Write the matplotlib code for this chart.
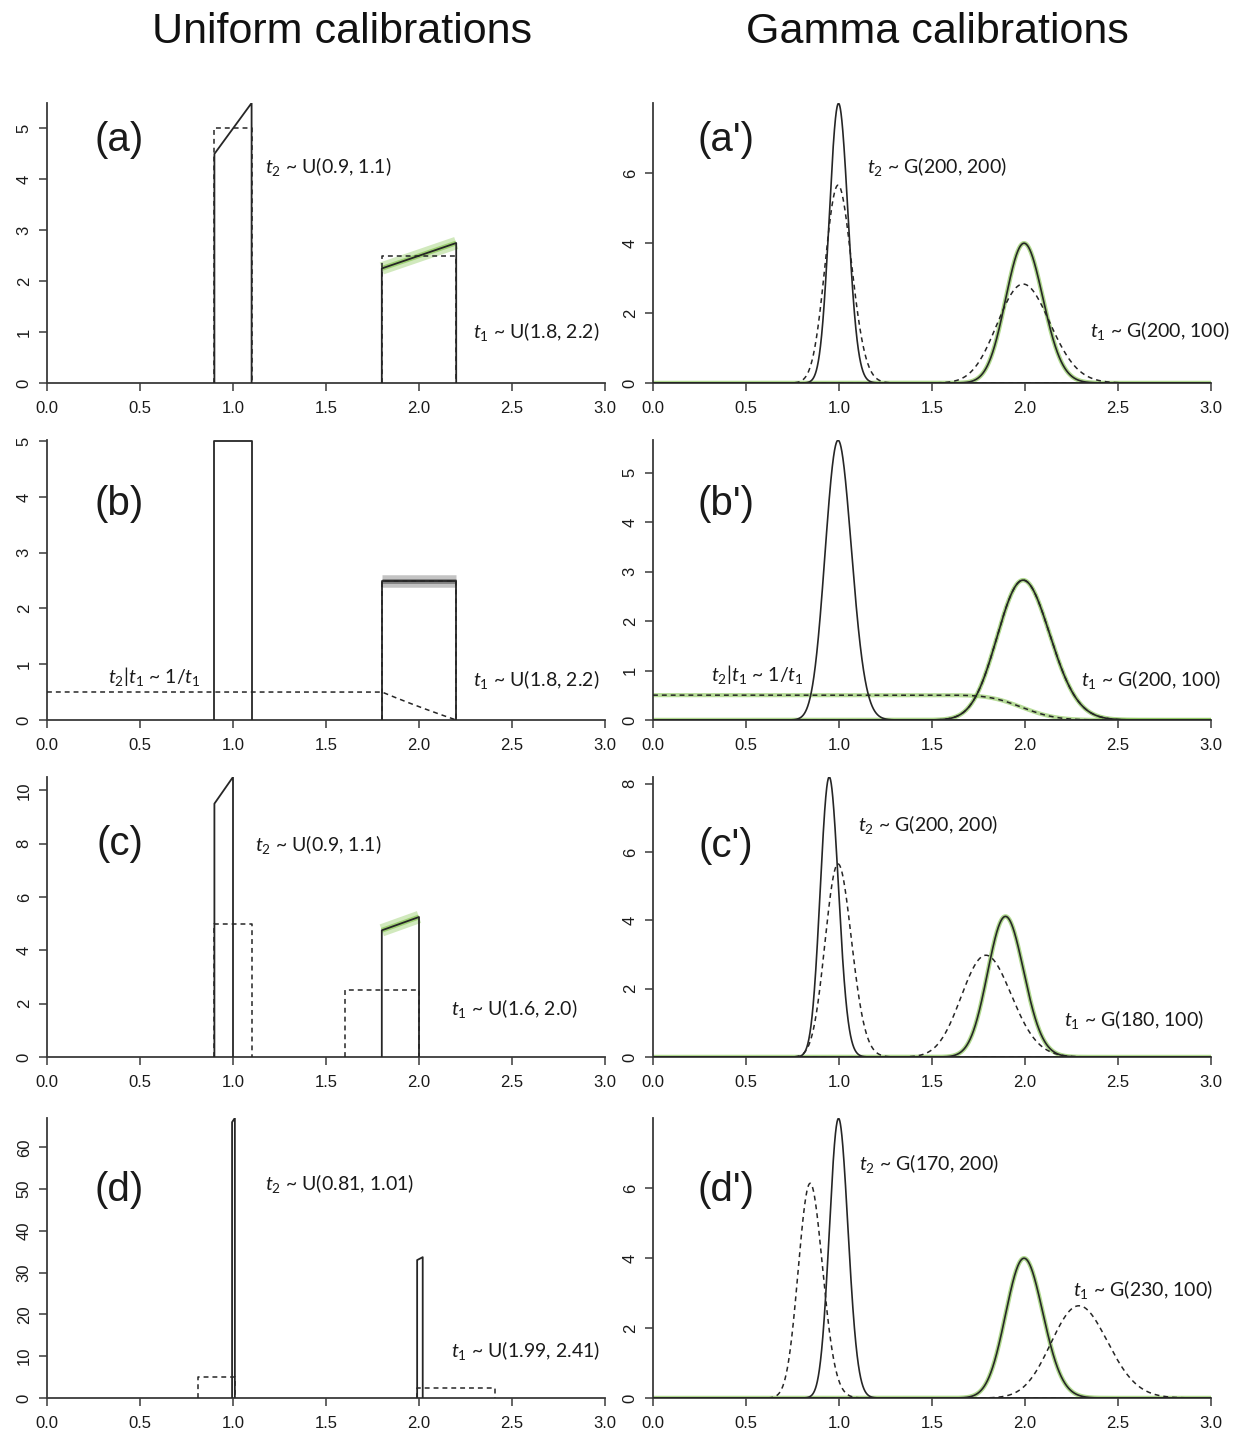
import math
import numpy as np
import matplotlib
matplotlib.use("Agg")
import matplotlib.pyplot as plt

plt.rcParams["font.family"] = ["Liberation Sans", "DejaVu Sans"]
plt.rcParams["mathtext.fontset"] = "custom"
plt.rcParams["mathtext.it"] = "Lato:italic"
plt.rcParams["mathtext.rm"] = "Lato"

# ---------------------------------------------------------------- data
column_titles = ["Uniform calibrations", "Gamma calibrations"]
tags_uniform = ["(a)", "(b)", "(c)", "(d)"]
tags_gamma = ["(a')", "(b')", "(c')", "(d')"]

x_ticks = [0.0, 0.5, 1.0, 1.5, 2.0, 2.5, 3.0]

# uniform column: y-range and y ticks
ymax_uniform = [5.5, 5.02, 10.5, 67.0]
yticks_uniform = [[0, 1, 2, 3, 4, 5], [0, 1, 2, 3, 4, 5],
                  [0, 2, 4, 6, 8, 10], [0, 10, 20, 30, 40, 50, 60]]
# calibration priors (lower, upper); None -> t2 | t1 ~ 1/t1
u_t2_prior = [(0.9, 1.1), None, (0.9, 1.1), (0.81, 1.01)]
u_t1_prior = [(1.8, 2.2), (1.8, 2.2), (1.6, 2.0), (1.99, 2.41)]
# posteriors: (lower, upper, density at lower, density at upper)
u_t2_post = [(0.9, 1.1, 4.5, 5.5), (0.9, 1.1, 5.0, 5.0),
             (0.9, 1.0, 9.5, 10.5), (0.995, 1.01, 66.0, 67.0)]
u_t1_post = [(1.8, 2.2, 2.25, 2.75), (1.8, 2.2, 2.5, 2.5),
             (1.8, 2.0, 4.75, 5.25), (1.99, 2.02, 33.0, 33.7)]
u_mcmc_colour = ["#7cc043", "#555555", "#7cc043", None]

# gamma column: y-range and y ticks
ymax_gamma = [8.0, 5.66, 8.2, 8.0]
yticks_gamma = [[0, 2, 4, 6], [0, 1, 2, 3, 4, 5], [0, 2, 4, 6, 8], [0, 2, 4, 6]]
# calibration priors G(shape, rate); None -> t2 | t1 ~ 1/t1
g_t2_prior = [(200, 200), None, (200, 200), (170, 200)]
g_t1_prior = [(200, 100), (200, 100), (180, 100), (230, 100)]
# posteriors summarised by (mean, sd)
g_t2_post = [(1.0, 0.050), (1.0, 0.0707), (0.95, 0.0487), (1.0, 0.050)]
g_t1_post = [(2.0, 0.100), (2.0, 0.1414), (1.90, 0.097), (2.0, 0.100)]

# annotations: (text, x in data units, y as axes fraction)
notes_uniform = [
    [(r"$t_2$ ~ U(0.9, 1.1)", 1.17, 0.773), (r"$t_1$ ~ U(1.8, 2.2)", 2.29, 0.183)],
    [(r"$t_2|t_1$ ~ 1/$t_1$", 0.33, 0.156), (r"$t_1$ ~ U(1.8, 2.2)", 2.29, 0.144)],
    [(r"$t_2$ ~ U(0.9, 1.1)", 1.12, 0.760), (r"$t_1$ ~ U(1.6, 2.0)", 2.17, 0.175)],
    [(r"$t_2$ ~ U(0.81, 1.01)", 1.17, 0.767), (r"$t_1$ ~ U(1.99, 2.41)", 2.17, 0.171)],
]
notes_gamma = [
    [(r"$t_2$ ~ G(200, 200)", 1.15, 0.773), (r"$t_1$ ~ G(200, 100)", 2.35, 0.189)],
    [(r"$t_2|t_1$ ~ 1/$t_1$", 0.31, 0.162), (r"$t_1$ ~ G(200, 100)", 2.30, 0.144)],
    [(r"$t_2$ ~ G(200, 200)", 1.10, 0.832), (r"$t_1$ ~ G(180, 100)", 2.21, 0.133)],
    [(r"$t_2$ ~ G(170, 200)", 1.11, 0.838), (r"$t_1$ ~ G(230, 100)", 2.26, 0.386)],
]
tag_pos_uniform = [0.868, 0.773, 0.760, 0.743]
tag_pos_gamma = [0.868, 0.773, 0.754, 0.743]

# ---------------------------------------------------------------- helpers
LINE = "#262626"
DASH = (0, (3.2, 2.6))
grid = np.linspace(0.0, 3.0, 6001)


def gamma_pdf(x, shape, rate):
    out = np.zeros_like(x)
    m = x > 0
    out[m] = np.exp(shape * math.log(rate) - math.lgamma(shape)
                    + (shape - 1) * np.log(x[m]) - rate * x[m])
    return out


def gamma_from_moments(mean, sd):
    return (mean / sd) ** 2, mean / sd ** 2


def uniform_pdf(x, lo, hi):
    return np.where((x >= lo) & (x <= hi), 1.0 / (hi - lo), 0.0)


def conditional_t2(x, t1_density):
    # marginal of t2 when t2 | t1 ~ U(0, t1): integral over t1 > t2 of f(t1)/t1
    integrand = np.zeros_like(x)
    m = x > 0
    integrand[m] = t1_density[m] / x[m]
    dx = x[1] - x[0]
    return np.cumsum(integrand[::-1])[::-1] * dx


def box(lo, hi, h_lo, h_hi):
    return [lo, lo, hi, hi], [0.0, h_lo, h_hi, 0.0]


def style_axes(ax, ymax, yticks):
    ax.set_xlim(0, 3)
    ax.set_ylim(0, ymax)
    ax.set_xticks(x_ticks)
    ax.set_xticklabels([f"{v:.1f}" for v in x_ticks])
    ax.set_yticks(yticks)
    ax.set_yticklabels([str(v) for v in yticks])
    for s in ("top", "right"):
        ax.spines[s].set_visible(False)
    for s in ("left", "bottom"):
        ax.spines[s].set_color("#3a3a3a")
        ax.spines[s].set_linewidth(1.3)
    ax.tick_params(direction="out", length=6, width=1.1, color="#3a3a3a",
                   labelsize=12, labelcolor="#1a1a1a")
    ax.tick_params(axis="x", pad=7)
    ax.tick_params(axis="y", labelrotation=90, pad=5)
    for lab in ax.get_yticklabels():
        lab.set_verticalalignment("center")
    ax.patch.set_alpha(0)


def annotate(ax, tag, tag_y, notes):
    ax.text(0.13, tag_y, tag, transform=ax.transAxes, fontsize=29,
            ha="center", va="center", color="#1a1a1a")
    tr = ax.get_xaxis_transform()
    for txt, xv, yf in notes:
        ax.text(xv, yf, txt, transform=tr, fontsize=14, ha="left",
                va="center", color="#1a1a1a", family="Lato")


# ---------------------------------------------------------------- figure
fig = plt.figure(figsize=(12.35, 14.37), dpi=100)
W, H = 1235.0, 1437.0
row_zero = [383, 720, 1057, 1398]
row_height = 280
left_x, right_x, ax_w = 47, 653, 558

fig.text(342 / W, 1 - 43 / H, column_titles[0], fontsize=31, ha="center",
         va="baseline", color="#111111")
fig.text(937 / W, 1 - 43 / H, column_titles[1], fontsize=31, ha="center",
         va="baseline", color="#111111")

for r in range(4):
    bottom = 1 - row_zero[r] / H
    h = row_height / H

    # ---------------- uniform calibrations
    ax = fig.add_axes([left_x / W, bottom, ax_w / W, h])
    style_axes(ax, ymax_uniform[r], yticks_uniform[r])

    lo1, hi1 = u_t1_prior[r]
    if u_t2_prior[r] is None:
        t1_dens = uniform_pdf(grid, lo1, hi1)
        cond = conditional_t2(grid, t1_dens)
        m = grid <= hi1
        ax.plot(grid[m], cond[m], color=LINE, lw=1.1, ls=DASH, zorder=3)
    else:
        xs, ys = box(*u_t2_prior[r], 1 / (u_t2_prior[r][1] - u_t2_prior[r][0]),
                     1 / (u_t2_prior[r][1] - u_t2_prior[r][0]))
        ax.plot(xs, ys, color=LINE, lw=1.1, ls=DASH, zorder=3)
    xs, ys = box(lo1, hi1, 1 / (hi1 - lo1), 1 / (hi1 - lo1))
    ax.plot(xs, ys, color=LINE, lw=1.1, ls=DASH, zorder=3)

    lo, hi, a, b = u_t1_post[r]
    if u_mcmc_colour[r] is not None:
        ax.plot([lo, hi], [a, b], color=u_mcmc_colour[r], lw=9, alpha=0.35,
                solid_capstyle="butt", zorder=2)
        ax.plot([lo, hi], [a, b], color=u_mcmc_colour[r], lw=3.5, alpha=0.6,
                solid_capstyle="butt", zorder=2)
    xs, ys = box(lo, hi, a, b)
    ax.plot(xs, ys, color=LINE, lw=1.3, zorder=4)
    xs, ys = box(*u_t2_post[r])
    ax.plot(xs, ys, color=LINE, lw=1.3, zorder=4)

    annotate(ax, tags_uniform[r], tag_pos_uniform[r], notes_uniform[r])

    # ---------------- gamma calibrations
    ax = fig.add_axes([right_x / W, bottom, ax_w / W, h])
    style_axes(ax, ymax_gamma[r], yticks_gamma[r])

    t1_prior = gamma_pdf(grid, *g_t1_prior[r])
    if g_t2_prior[r] is None:
        t2_prior = conditional_t2(grid, t1_prior)
        ax.plot(grid, t2_prior, color="#7cc043", lw=3.0, alpha=0.55, zorder=2)
    else:
        t2_prior = gamma_pdf(grid, *g_t2_prior[r])
    ax.plot(grid, t2_prior, color=LINE, lw=1.1, ls=DASH, zorder=3)
    ax.plot(grid, t1_prior, color=LINE, lw=1.1, ls=DASH, zorder=3)

    t2_post = gamma_pdf(grid, *gamma_from_moments(*g_t2_post[r]))
    t1_post = gamma_pdf(grid, *gamma_from_moments(*g_t1_post[r]))
    ax.plot(grid, t1_post, color="#7cc043", lw=3.2, alpha=0.6, zorder=2)
    ax.plot(grid, t1_post, color=LINE, lw=1.2, zorder=4)
    ax.plot(grid, t2_post, color=LINE, lw=1.2, zorder=4)

    annotate(ax, tags_gamma[r], tag_pos_gamma[r], notes_gamma[r])

fig.savefig("out.png", dpi=100, facecolor="white")
